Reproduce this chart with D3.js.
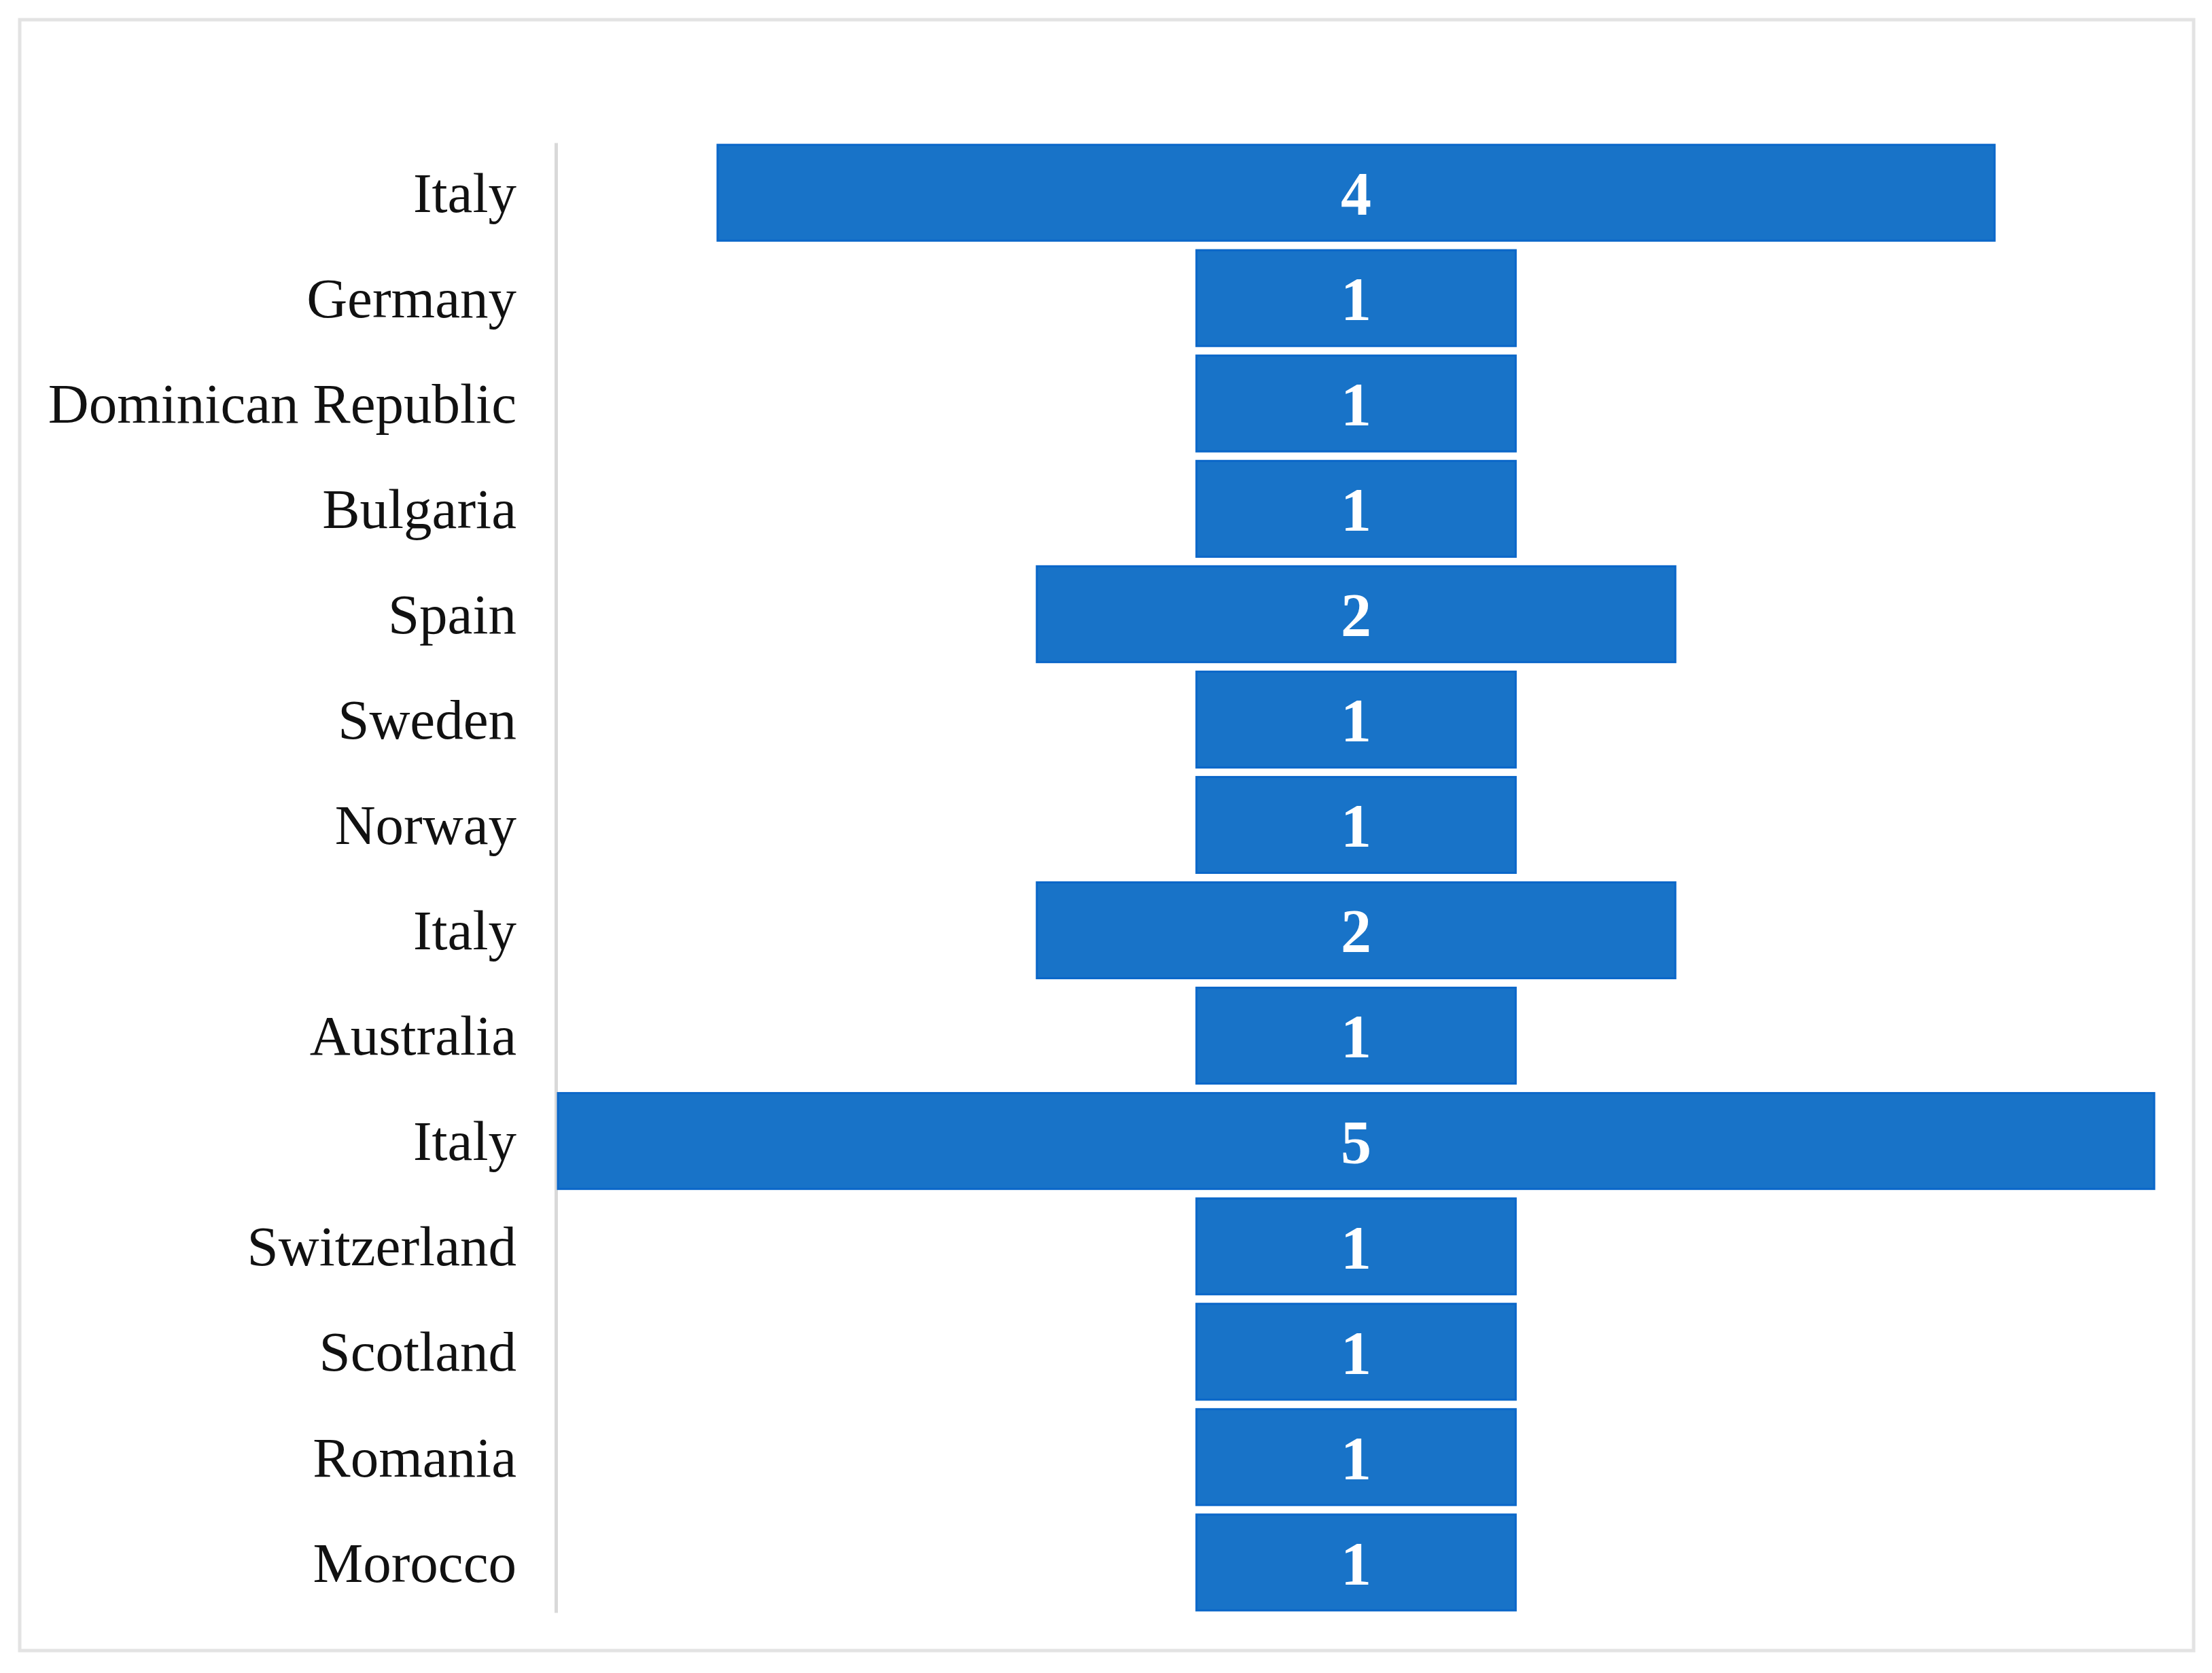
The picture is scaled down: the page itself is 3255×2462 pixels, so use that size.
<!DOCTYPE html>
<html>
<head>
<meta charset="utf-8">
<script src="https://cdn.jsdelivr.net/npm/d3@7"></script>
<style>
    body { margin: 0; background: #ffffff; }
    svg { display: block; }
</style>
</head>
<body>
<div id="chart"></div>
<script>
var countries = ["Italy", "Germany", "Dominican Republic", "Bulgaria", "Spain", "Sweden",
    "Norway", "Italy", "Australia", "Italy", "Switzerland", "Scotland", "Romania", "Morocco"];
var counts = [4, 1, 1, 1, 2, 1, 1, 2, 1, 5, 1, 1, 1, 1];

function init() {
    var w = 3255;
    var h = 2462;
    var barColor = "#1873c8";

    var dataset = countries.map(function (c, i) {
        return { idx: i, name: c, value: counts[i] };
    });

    var svg = d3.select("#chart")
        .append("svg")
        .attr("width", w)
        .attr("height", h);

    // outer frame
    svg.append("rect")
        .attr("x", 29)
        .attr("y", 29)
        .attr("width", 3199)
        .attr("height", 2400)
        .attr("fill", "#ffffff")
        .attr("stroke", "#e3e3e3")
        .attr("stroke-width", 5);

    var yScale = d3.scaleBand()
        .domain(d3.range(dataset.length))
        .range([210, 2373])
        .paddingInner(0.09)
        .paddingOuter(0.02);

    // bars are centred on zero, so half the value goes each way
    var maxV = d3.max(dataset, function (d) { return d.value; });
    var xScale = d3.scaleLinear()
        .domain([-maxV / 2, maxV / 2])
        .range([821, 3170]);

    var yAxis = d3.axisLeft(yScale)
        .tickSize(0)
        .tickSizeOuter(0)
        .tickPadding(58)
        .tickFormat(function (i) { return countries[i]; });

    var gy = svg.append("g")
        .attr("transform", "translate(818,0)")
        .call(yAxis);

    gy.select(".domain")
        .attr("stroke", "#d9d9d9")
        .attr("stroke-width", 5);

    gy.selectAll(".tick text")
        .attr("font-family", "'Liberation Serif', 'DejaVu Serif', serif")
        .attr("font-size", 83)
        .attr("fill", "#111111")
        .attr("dy", "0.34em");

    svg.selectAll("rect.bar")
        .data(dataset)
        .enter()
        .append("rect")
        .attr("class", "bar")
        .attr("x", function (d) { return xScale(-d.value / 2); })
        .attr("y", function (d) { return yScale(d.idx); })
        .attr("width", function (d) { return xScale(d.value / 2) - xScale(-d.value / 2); })
        .attr("height", yScale.bandwidth())
        .attr("fill", barColor)
        .attr("stroke", "#0b67c9")
        .attr("stroke-width", 3);

    svg.selectAll("text.val")
        .data(dataset)
        .enter()
        .append("text")
        .attr("class", "val")
        .attr("x", xScale(0))
        .attr("y", function (d) { return yScale(d.idx) + yScale.bandwidth() / 2; })
        .attr("dy", "0.36em")
        .attr("text-anchor", "middle")
        .attr("font-family", "'Liberation Serif', 'DejaVu Serif', serif")
        .attr("font-weight", "bold")
        .attr("font-size", 90)
        .attr("fill", "#ffffff")
        .text(function (d) { return d.value; });
}
window.onload = init;
</script>
</body>
</html>
